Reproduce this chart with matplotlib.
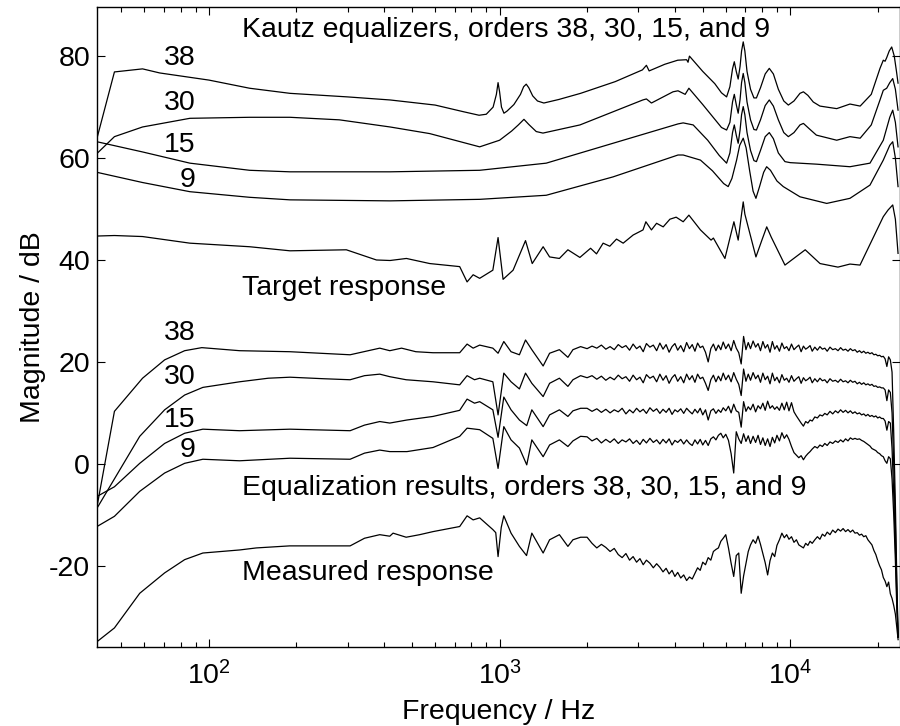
import matplotlib
matplotlib.use("Agg")
import matplotlib.pyplot as plt

plt.rcParams['font.family'] = ['Liberation Sans', 'DejaVu Sans']
plt.rcParams['mathtext.fontset'] = 'custom'
plt.rcParams['mathtext.rm'] = 'Liberation Sans'
plt.rcParams['mathtext.it'] = 'Liberation Sans'
plt.rcParams['axes.unicode_minus'] = False

# ---- Kautz equalizer responses (upper group) ----
k38_f = [41.2, 47.3, 59.1, 67.7, 100, 138, 190, 300, 420, 600, 750, 850, 900, 950, 975, 988,
         1000, 1015, 1035, 1060, 1120, 1180, 1210, 1235, 1260, 1300, 1350, 1420, 1600, 1900,
         2500, 3100, 3200, 3270, 3700, 4100, 4400, 4450, 4500, 5000, 5500, 5800, 6040, 6200,
         6330, 6420, 6520, 6620, 6720, 6800, 6890, 6980, 7100, 7300, 7500, 7650, 7900, 8200,
         8470, 8750, 9100, 9500, 9850, 10300, 10800, 11100, 11500, 12000, 12650, 14450,
         16050, 17400, 19000, 20360, 20900, 21200, 21470, 21900, 22340, 22800, 23200, 23490]
k38_db = [63.9, 76.9, 77.5, 76.7, 75.3, 73.7, 72.7, 72.0, 71.4, 70.4, 69.1, 68.4, 68.6, 70.0, 72.5, 74.8,
          73.0, 70.0, 68.8, 69.2, 70.5, 72.5, 74.0, 74.5, 73.8, 72.2, 71.2, 70.8, 71.5, 72.7,
          75.0, 77.3, 78.2, 77.1, 78.4, 79.2, 79.3, 78.8, 80.0, 77.0, 74.6, 72.8, 72.0, 74.0,
          77.5, 78.9, 77.0, 75.5, 78.0, 81.0, 82.8, 81.0, 77.0, 73.5, 71.8, 71.8, 73.8, 76.5,
          77.6, 76.5, 73.5, 71.2, 70.4, 71.2, 72.7, 73.0, 72.3, 71.0, 70.2, 69.7,
          70.6, 70.2, 72.5, 77.6, 79.2, 79.0, 79.7, 81.0, 81.8, 80.0, 77.0, 74.7]

k30_f = [41.2, 47.3, 59.1, 86, 138, 190, 281, 420, 575, 854, 1000, 1100, 1160, 1213, 1260,
         1337, 1410, 1890, 3110, 3200, 3330, 3950, 4110, 4350, 4480, 5000, 5800, 6040, 6200,
         6330, 6420, 6520, 6620, 6720, 6800, 6890, 6980, 7100, 7300, 7500, 7650, 7900, 8200,
         8470, 8750, 9100, 9500, 9850, 10300, 10800, 11100, 11600, 12300, 14450, 16050,
         17400, 19000, 20360, 20900, 21470, 22000, 22520, 23000, 23490]
k30_db = [60.9, 64.2, 66.1, 67.8, 68.0, 68.0, 67.5, 66.1, 64.8, 62.2, 63.5, 65.3, 66.5, 67.6, 66.6,
          65.2, 64.9, 66.5, 71.4, 71.6, 70.8, 73.0, 73.2, 72.5, 73.7, 70.5, 66.0, 65.5, 67.0,
          71.0, 72.5, 70.5, 68.8, 71.5, 74.8, 76.6, 74.8, 71.0, 67.5, 65.6, 65.5, 67.5, 70.3,
          71.4, 70.2, 67.5, 65.0, 64.2, 65.0, 66.5, 66.8, 65.8, 64.5, 63.5, 64.2,
          63.9, 66.5, 71.4, 73.3, 73.7, 74.8, 75.6, 73.5, 69.4]

k15_f = [41.2, 59.1, 86, 138, 190, 420, 854, 1447, 2455, 4110, 4282, 4635, 5200, 5700, 6040,
         6200, 6330, 6420, 6520, 6620, 6720, 6800, 6890, 6980, 7100, 7300, 7500, 7650, 7900,
         8200, 8470, 8750, 9100, 9590, 10000, 12330, 16050, 18810, 20900, 22000, 22520,
         23000, 23490]
k15_db = [63.2, 61.2, 59.0, 57.6, 57.3, 57.3, 57.6, 59.0, 62.9, 66.7, 66.9, 66.5, 63.5, 60.5, 59.0,
          61.0, 65.0, 66.5, 64.5, 62.9, 65.5, 68.5, 70.1, 68.5, 65.0, 61.5, 59.5, 59.3, 61.5,
          64.2, 65.0, 63.8, 61.0, 59.3, 59.1, 58.8, 58.3, 59.0, 63.5, 68.0, 69.4,
          67.0, 62.2]

k9_f = [41.2, 59.1, 86, 138, 190, 420, 854, 1447, 2455, 4110, 4282, 4910, 5400, 5900, 6116,
        6300, 6538, 6700, 6890, 7050, 7250, 7450, 7620, 7850, 8100, 8294, 8550, 9000, 9463,
        10800, 13350, 16050, 18810, 20900, 22000, 22520, 23000, 23490]
k9_db = [57.2, 55.2, 53.4, 52.3, 51.8, 51.6, 51.9, 52.7, 56.3, 60.6, 60.6, 59.6, 57.5, 55.0, 54.4,
         56.0, 59.6, 62.5, 63.9, 62.0, 57.5, 53.5, 52.1, 54.5, 57.2, 58.3, 57.6, 55.5, 54.4,
         52.4, 51.1, 52.1, 54.7, 59.6, 62.5, 63.2, 60.0, 54.4]

target_f = [41.2, 47.3, 59.1, 86, 138, 190, 297, 377, 420, 478, 575, 729, 773, 811, 854, 948,
            988, 1028, 1113, 1228, 1295, 1412, 1486, 1606, 1718, 1889, 2056, 2155, 2271, 2394,
            2525, 2662, 2881, 3115, 3186, 3330, 3468, 3655, 3854, 4050, 4282, 4480, 4910,
            5340, 5440, 5960, 6400, 6620, 6800, 6890, 6980, 7620, 8000, 8300, 8600, 9590,
            11260, 12660, 14590, 16050, 17380, 20900, 21700, 22520, 23000, 23490]
target_db = [44.7, 44.8, 44.6, 43.3, 42.6, 41.8, 42.0, 40.0, 39.9, 40.3, 39.3, 38.7, 35.7, 37.1, 36.4, 38.0,
             44.4, 36.2, 38.0, 43.8, 39.3, 42.6, 40.6, 40.3, 42.0, 40.5, 42.3, 41.2, 43.3, 42.7,
             44.1, 43.3, 44.9, 45.9, 47.5, 45.9, 47.2, 46.5, 48.0, 48.4, 47.5, 48.8, 45.9,
             43.9, 44.3, 40.3, 47.5, 43.9, 49.0, 51.4, 49.0, 40.6, 44.0, 46.5, 44.5, 39.0,
             42.0, 39.3, 38.6, 39.2, 39.0, 48.5, 49.8, 50.8, 48.0, 41.3]

# ---- Equalization results and measured response (lower group) ----
# below 2 kHz
eq38_lf = [41.2, 47.3, 59.1, 70.4, 82.5, 94.5, 127.5, 190, 306, 387, 419, 460, 515, 590, 729,
           773, 811, 854, 948, 988, 1034, 1095, 1170, 1228, 1291, 1412, 1486, 1606, 1718, 1788, 1900]
eq38_lf_db = [-8.4, 10.3, 16.8, 20.4, 22.2, 22.8, 22.2, 22.0, 21.4, 22.7, 22.2, 22.7, 22.0, 21.8, 21.8,
              23.5, 22.7, 23.3, 22.7, 21.7, 24.0, 22.0, 21.4, 24.3, 22.4, 19.2, 21.7, 22.4, 20.9, 22.4, 23.0]

eq30_lf = [41.2, 57.8, 70.4, 82.5, 95.3, 127.5, 160, 190, 248, 306, 343, 387, 419, 477, 590, 729,
           773, 820, 854, 948, 988, 1034, 1095, 1170, 1228, 1291, 1412, 1486, 1606, 1718, 1788, 1900]
eq30_lf_db = [-8.7, 5.4, 10.6, 13.5, 15.0, 16.1, 16.8, 17.0, 16.7, 16.5, 17.3, 17.6, 17.1, 16.5, 16.1, 15.5,
              17.3, 16.5, 16.8, 16.1, 9.6, 17.8, 16.1, 14.7, 17.8, 15.8, 13.2, 15.8, 16.8, 15.2, 16.5, 17.3]

eq15_lf = [41.2, 47.3, 57.8, 70.4, 82.5, 95.3, 127.5, 190, 306, 343, 387, 419, 480, 590, 729,
           773, 820, 854, 948, 988, 1034, 1095, 1170, 1240, 1291, 1412, 1486, 1606, 1718, 1788, 1900]
eq15_lf_db = [-6.4, -4.5, 0.1, 4.0, 6.0, 6.8, 6.5, 6.8, 6.5, 7.6, 8.3, 8.0, 8.6, 9.3, 10.5,
              12.7, 11.9, 12.2, 10.6, 5.2, 13.1, 10.6, 8.6, 7.5, 10.6, 7.3, 9.6, 10.6, 9.3, 10.4, 10.9]

eq9_lf = [41.2, 47.3, 57.8, 70.4, 82.5, 95.3, 127.5, 190, 306, 343, 387, 419, 480, 590, 729,
          773, 854, 948, 988, 1034, 1095, 1170, 1240, 1291, 1412, 1486, 1606, 1718, 1788, 1900]
eq9_lf_db = [-12.3, -10.3, -5.4, -1.8, 0.1, 0.9, 0.6, 1.1, 0.9, 2.1, 2.7, 2.4, 2.4, 3.2, 5.4,
             7.0, 6.7, 5.0, -0.9, 7.3, 4.7, 3.1, -0.2, 4.7, 1.4, 3.7, 4.7, 3.4, 4.5, 5.4]

meas_lf = [41.2, 47.3, 57.8, 70.4, 82.5, 95.3, 127.5, 145.6, 189.6, 306, 343, 387, 419, 430, 477,
           531, 590, 729, 773, 811, 854, 948, 970, 988, 1013, 1034, 1095, 1170, 1238, 1291, 1412,
           1486, 1606, 1718, 1788, 1900]
meas_lf_db = [-34.9, -32.2, -25.4, -21.4, -18.8, -17.5, -16.9, -16.5, -16.1, -16.1, -14.6, -13.9, -14.2, -13.6, -14.4,
              -13.9, -13.3, -12.3, -10.2, -11.0, -10.6, -12.9, -13.5, -18.2, -12.5, -10.2, -13.6, -16.2, -18.0, -13.6, -17.5,
              -14.9, -13.9, -16.2, -14.9, -14.4]

# above 2 kHz (shared frequency grid, 10 per row)
f_hf = [2000, 2080, 2160, 2240, 2320, 2400, 2480, 2560, 2640, 2720,
        2800, 2880, 2960, 3040, 3120, 3200, 3290, 3380, 3470, 3560,
        3650, 3740, 3830, 3920, 4010, 4100, 4200, 4300, 4400, 4500,
        4600, 4700, 4800, 4900, 5000, 5110, 5220, 5330, 5440, 5550,
        5660, 5770, 5880, 6000, 6130, 6260, 6390, 6520, 6650, 6780,
        6910, 7040, 7170, 7300, 7450, 7600, 7750, 7900, 8050, 8200,
        8360, 8520, 8680, 8840, 9000, 9180, 9360, 9540, 9720, 9900,
        10100, 10300, 10500, 10700, 10900, 11100, 11300, 11500, 11700, 11900,
        12150, 12400, 12650, 12900, 13150, 13400, 13700, 14000, 14300, 14600,
        14900, 15200, 15500, 15800, 16100, 16400, 16700, 17000, 17300, 17600,
        17900, 18200, 18500, 18800, 19100, 19400, 19700, 20000, 20300, 20600,
        20900, 21200, 21500, 21800, 22100, 22400, 22700, 23000, 23250, 23500]

eq38_hf_db = [22.6, 23.1, 22.7, 23.3, 22.5, 23.0, 22.4, 23.4, 22.8, 23.2,
              22.3, 23.5, 22.6, 23.1, 22.0, 23.6, 22.9, 23.3, 22.2, 23.7,
              22.5, 23.4, 21.9, 23.0, 23.6, 22.3, 23.2, 22.0, 23.8, 22.6,
              23.4, 22.1, 23.7, 22.8, 23.1, 21.9, 20.0, 22.6, 23.5, 22.2,
              23.3, 22.4, 23.9, 22.6, 23.5, 22.2, 24.2, 22.7, 21.8, 19.6,
              25.0, 22.4, 23.8, 22.6, 24.1, 22.9, 23.6, 22.2, 24.0, 22.7,
              23.4, 21.9, 24.0, 22.5, 23.2, 22.1, 23.7, 22.6, 23.0, 22.2,
              23.5, 22.4, 22.9, 23.3, 22.0, 23.1, 22.5, 22.8, 23.2, 22.1,
              22.9, 22.3, 23.0, 22.5, 22.7, 22.1, 22.9, 22.4, 22.6, 22.2,
              22.8, 22.3, 22.5, 22.1, 22.6, 22.2, 22.4, 21.9, 22.2, 21.8,
              22.1, 21.7, 21.9, 21.6, 21.8, 21.4, 21.5, 21.2, 21.3, 21.0,
              21.1, 20.6, 19.1, 21.0, 20.4, 18.0, 6.0, -8.0, -22.0, -34.0]

eq30_hf_db = [16.9, 17.3, 16.6, 17.2, 16.4, 17.0, 16.5, 17.4, 16.7, 17.1,
              16.2, 17.4, 16.5, 17.0, 15.9, 17.5, 16.8, 17.2, 16.1, 17.6,
              16.4, 17.3, 15.8, 16.9, 17.5, 16.2, 17.1, 15.9, 17.6, 16.5,
              17.3, 16.0, 17.6, 16.7, 17.0, 15.8, 14.4, 16.5, 17.4, 16.1,
              17.2, 16.3, 17.8, 16.5, 17.4, 16.1, 17.9, 16.6, 15.6, 13.4,
              18.6, 16.2, 17.6, 16.4, 17.9, 16.7, 17.4, 16.0, 17.8, 16.5,
              17.2, 15.7, 17.8, 16.3, 17.0, 15.9, 17.5, 16.4, 16.8, 16.0,
              17.3, 16.2, 16.7, 17.1, 15.8, 16.9, 16.3, 16.6, 17.0, 15.9,
              16.7, 16.1, 16.8, 16.3, 16.5, 15.9, 16.7, 16.2, 16.4, 16.0,
              16.6, 16.1, 16.3, 15.9, 16.4, 16.0, 16.2, 15.7, 16.0, 15.6,
              15.9, 15.5, 15.7, 15.4, 15.6, 15.2, 15.3, 15.0, 15.1, 14.9,
              14.9, 14.5, 12.4, 14.5, 14.0, 10.0, 0.0, -12.0, -24.0, -34.0]

eq15_hf_db = [10.9, 10.3, 10.8, 10.1, 10.7, 10.0, 10.6, 10.2, 10.9, 9.8,
              10.6, 10.0, 10.9, 10.2, 10.7, 9.9, 11.0, 10.3, 10.8, 9.9,
              10.7, 10.1, 10.9, 9.7, 10.6, 10.2, 10.8, 9.9, 10.9, 10.3,
              9.8, 10.7, 10.0, 10.9, 9.6, 10.6, 8.6, 10.4, 10.8, 9.9,
              10.6, 10.1, 11.0, 10.4, 11.3, 10.0, 11.7, 10.4, 10.1, 7.2,
              12.2, 10.3, 11.2, 10.6, 11.7, 10.2, 11.4, 10.8, 11.9, 10.5,
              12.3, 10.9, 11.4, 10.7, 11.2, 10.5, 11.9, 10.6, 12.1, 10.4,
              12.0, 10.2, 9.4, 8.7, 8.0, 7.4, 8.3, 8.0, 8.6, 8.4,
              9.2, 9.0, 9.6, 9.4, 9.9, 9.6, 10.3, 9.8, 10.4, 10.0,
              10.6, 10.1, 10.5, 10.0, 10.4, 9.9, 10.2, 9.8, 10.0, 9.6,
              9.8, 9.4, 9.7, 9.3, 9.5, 9.2, 9.4, 9.0, 9.2, 8.9,
              8.9, 8.4, 6.6, 8.3, 8.0, 3.0, -6.0, -16.0, -26.0, -34.0]

eq9_hf_db = [5.3, 4.5, 5.0, 4.1, 4.8, 4.2, 4.9, 4.0, 4.7, 4.3,
             4.9, 4.0, 4.6, 3.8, 4.8, 4.1, 5.0, 4.2, 4.7, 3.9,
             4.8, 4.1, 4.9, 3.7, 4.6, 4.2, 4.8, 3.9, 4.7, 4.0,
             3.6, 4.7, 3.9, 4.8, 3.7, 4.6, 3.6, 4.9, 5.3, 4.7,
             5.6, 6.0, 5.1, 5.8, 4.6, 2.0, -1.8, 6.3, 4.9, 4.0,
             5.9, 4.4, 5.5, 4.0, 5.4, 4.2, 5.6, 3.8, 5.1, 3.6,
             4.9, 3.4, 5.2, 4.1, 5.6, 4.5, 6.1, 5.0, 5.7, 4.8,
             3.4, 2.2, 1.7, 1.2, 1.6, 0.8, 1.5, 2.0, 2.4, 2.9,
             3.4, 3.1, 3.7, 3.4, 4.0, 3.6, 4.3, 4.0, 4.5, 4.2,
             4.7, 4.3, 4.9, 4.5, 5.1, 4.8, 5.0, 4.8, 4.9, 4.6,
             4.4, 4.1, 3.8, 3.5, 3.0, 2.8, 2.6, 2.2, 2.0, 1.6,
             1.4, 0.6, 0.1, 1.4, 1.0, -3.0, -10.0, -19.0, -28.0, -34.0]

meas_hf_db = [-14.4, -15.6, -16.5, -15.8, -16.4, -17.2, -16.6, -17.8, -18.4, -17.6,
              -18.9, -18.2, -19.3, -18.6, -19.8, -18.9, -19.5, -20.4, -19.6, -20.3,
              -21.2, -20.5, -21.6, -20.9, -22.1, -21.3, -22.4, -21.8, -22.9, -22.2,
              -22.6, -21.5, -20.4, -20.9, -19.3, -19.8, -18.4, -18.9, -17.2, -16.8,
              -16.5, -15.2, -14.6, -13.9, -16.5, -19.5, -22.1, -18.0, -17.5, -25.4,
              -22.0, -19.6, -17.2, -15.9, -14.9, -15.6, -14.2, -15.8, -17.6, -19.4,
              -21.8, -19.0, -17.5, -18.2, -16.0, -14.9, -13.6, -14.5, -13.9, -14.8,
              -14.3, -15.4, -14.9, -15.9, -16.2, -16.5, -15.6, -16.0, -15.2, -15.6,
              -14.9, -14.3, -14.8, -13.8, -14.2, -13.4, -13.9, -13.0, -13.5, -12.8,
              -13.2, -12.7, -13.3, -12.9, -13.4, -13.0, -13.6, -13.5, -14.0, -13.8,
              -14.3, -14.1, -14.9, -15.4, -15.9, -17.0, -17.8, -19.0, -20.0, -20.8,
              -22.3, -23.0, -24.1, -23.2, -25.5, -26.4, -27.8, -29.5, -32.0, -34.5]

orders = ['38', '30', '15', '9']

fig = plt.figure(figsize=(9, 7.26), dpi=100)
ax = fig.add_axes([97 / 900, 1 - 647.3 / 726, (899.7 - 97) / 900, (647.3 - 6.7) / 726])

lw = 0.9
for f, d in [(k38_f, k38_db), (k30_f, k30_db), (k15_f, k15_db), (k9_f, k9_db), (target_f, target_db)]:
    ax.plot(f, d, color='k', lw=lw)

for lf, ld, hd in [(eq38_lf, eq38_lf_db, eq38_hf_db), (eq30_lf, eq30_lf_db, eq30_hf_db),
                   (eq15_lf, eq15_lf_db, eq15_hf_db), (eq9_lf, eq9_lf_db, eq9_hf_db),
                   (meas_lf, meas_lf_db, meas_hf_db)]:
    ax.plot(lf + f_hf, ld + hd, color='k', lw=lw)

fs = 20.5
ax.set_xscale('log')
ax.set_xlim(41.2, 23800)
ax.set_ylim(-36, 89.7)
ax.set_yticks([-20, 0, 20, 40, 60, 80])
ax.tick_params(which='both', direction='in', top=True, right=True, labelsize=fs)
ax.tick_params(which='major', length=6, width=0.8)
ax.tick_params(which='minor', length=3.5, width=0.8)
ax.tick_params(axis='x', pad=10)
ax.tick_params(axis='y', pad=5)
for s in ax.spines.values():
    s.set_linewidth(1.0)

ax.text(130, 85.1, 'Kautz equalizers, orders 38, 30, 15, and 9', fontsize=fs, va='center', ha='left')
ax.text(130, 34.5, 'Target response', fontsize=fs, va='center', ha='left')
ax.text(130, -4.7, 'Equalization results, orders 38, 30, 15, and 9', fontsize=fs, va='center', ha='left')
ax.text(130, -21.4, 'Measured response', fontsize=fs, va='center', ha='left')
for lab, y in zip(orders, [79.6, 70.8, 62.5, 55.7]):
    ax.text(90, y, lab, fontsize=fs, va='center', ha='right')
for lab, y in zip(orders, [25.7, 17.1, 8.6, 2.7]):
    ax.text(90, y, lab, fontsize=fs, va='center', ha='right')

ax.set_xlabel('Frequency / Hz', fontsize=fs, labelpad=6)
ax.set_ylabel('Magnitude / dB', fontsize=fs, labelpad=2)

fig.savefig('out.png', dpi=100)
